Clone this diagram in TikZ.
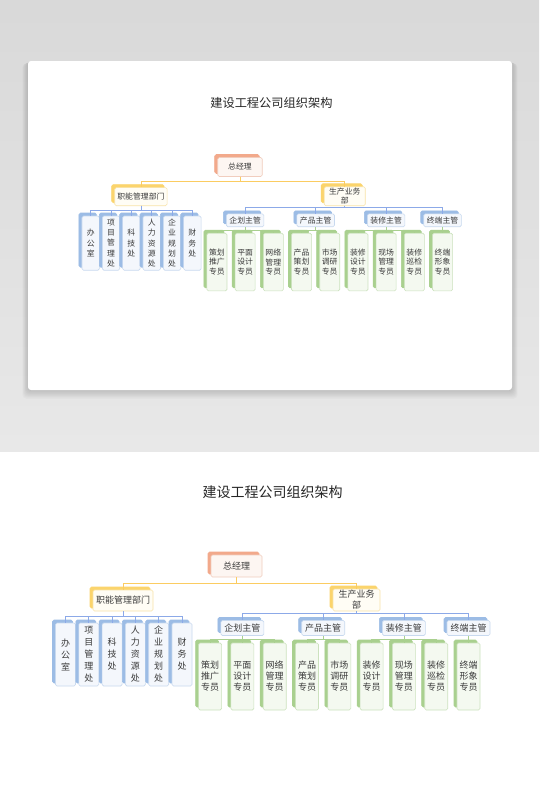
\documentclass[tikz,border=0pt]{standalone}
\usepackage{fontspec}
\newfontfamily\zhfont{Noto Sans CJK SC}
\usetikzlibrary{shadows}

\definecolor{txt}{HTML}{3A3A3A}
\definecolor{redback}{HTML}{F2A98B}
\definecolor{redline}{HTML}{F1CDBE}
\definecolor{redfill}{HTML}{FDF6F2}
\definecolor{ylwback}{HTML}{FBD46C}
\definecolor{ylwline}{HTML}{F8E3A8}
\definecolor{ylwfill}{HTML}{FFFDF5}
\definecolor{blueback}{HTML}{9CBCE5}
\definecolor{blueline}{HTML}{C8D9EF}
\definecolor{bluefill}{HTML}{F4F7FC}
\definecolor{grnback}{HTML}{A9D08F}
\definecolor{grnline}{HTML}{CCE2BE}
\definecolor{grnfill}{HTML}{F4F9F0}

\tikzset{
  box/.style={draw,rounded corners=1.5pt,inner sep=0pt,align=center,text=txt,line width=0.6pt,
    font=\zhfont\fontsize{9}{11}\selectfont},
  redbox/.style={box,draw=redline,fill=redfill,minimum width=51pt,minimum height=22pt,
    copy shadow={shadow xshift=-3pt,shadow yshift=3pt,draw=redback,fill=redback}},
  ylwbox/.style={box,draw=ylwline,fill=ylwfill,
    copy shadow={shadow xshift=-3pt,shadow yshift=3pt,draw=ylwback,fill=ylwback}},
  bluebox/.style={box,draw=blueline,fill=bluefill,minimum width=20pt,minimum height=63pt,
    font=\zhfont\fontsize{9}{12}\selectfont,
    copy shadow={shadow xshift=-3pt,shadow yshift=3pt,draw=blueback,fill=blueback}},
  mgrbox/.style={box,draw=blueline,fill=bluefill,minimum width=43pt,minimum height=15pt,
    copy shadow={shadow xshift=-3pt,shadow yshift=3pt,draw=blueback,fill=blueback}},
  grnbox/.style={box,draw=grnline,fill=grnfill,minimum width=23pt,minimum height=67pt,
    copy shadow={shadow xshift=-3pt,shadow yshift=3pt,draw=grnback,fill=grnback}},
  ylwwire/.style={draw=ylwback!90!orange,line width=0.8pt},
  bluewire/.style={draw=blueback!90!blue,line width=0.8pt},
  grnwire/.style={draw=grnback,line width=0.8pt},
  orgchart/.pic={
    \node[font=\zhfont\fontsize{14}{16}\selectfont,text=black!85] (title) at (36,-74) {建设工程公司组织架构};

    \node[redbox] (zjl) at (0,0) {总经理};
    \node[ylwbox,minimum width=60pt,minimum height=21pt] (znb) at (-113.5,34.5) {职能管理部门};
    \node[ylwbox,minimum width=47pt,minimum height=22pt] (scb) at (120,34) {生产业务\\部};

    % 职能管理部门
    \node[bluebox] (b1) at (-171,88.5) {办\\公\\室};
    \node[bluebox] (b2) at (-147.7,88.5) {项\\目\\管\\理\\处};
    \node[bluebox] (b3) at (-124.4,88.5) {科\\技\\处};
    \node[bluebox] (b4) at (-101.1,88.5) {人\\力\\资\\源\\处};
    \node[bluebox] (b5) at (-77.8,88.5) {企\\业\\规\\划\\处};
    \node[bluebox] (b6) at (-54.5,88.5) {财\\务\\处};

    % 生产业务部
    \node[mgrbox] (qh) at (5.9,62) {企划主管};
    \node[mgrbox] (cp) at (86.7,62) {产品主管};
    \node[mgrbox] (zx) at (167.4,62) {装修主管};
    \node[mgrbox] (zd) at (232,62) {终端主管};

    \node[grnbox] (g1) at (-26.4,110.5) {策划\\推广\\专员};
    \node[grnbox] (g2) at (5.9,110.5) {平面\\设计\\专员};
    \node[grnbox] (g3) at (38.2,110.5) {网络\\管理\\专员};
    \node[grnbox] (g4) at (70.5,110.5) {产品\\策划\\专员};
    \node[grnbox] (g5) at (102.8,110.5) {市场\\调研\\专员};
    \node[grnbox] (g6) at (135.1,110.5) {装修\\设计\\专员};
    \node[grnbox] (g7) at (167.4,110.5) {现场\\管理\\专员};
    \node[grnbox] (g8) at (199.7,110.5) {装修\\巡检\\专员};
    \node[grnbox] (g9) at (232,110.5) {终端\\形象\\专员};

    \draw[ylwwire] (zjl.south) -- ++(0,6) -| (znb.north);
    \draw[ylwwire] (zjl.south) -- ++(0,6) -| (scb.north);
    \foreach \i in {1,...,6}
      \draw[bluewire] (znb.south) -- ++(0,5) -| (b\i.north);
    \foreach \m in {qh,cp,zx,zd}
      \draw[bluewire] (scb.south) -- ++(0,2) -| (\m.north);
    \foreach \i in {1,2,3}
      \draw[grnwire] (qh.south) -- ++(0,3.5) -| (g\i.north);
    \foreach \i in {4,5}
      \draw[grnwire] (cp.south) -- ++(0,3.5) -| (g\i.north);
    \foreach \i in {6,7,8}
      \draw[grnwire] (zx.south) -- ++(0,3.5) -| (g\i.north);
    \draw[grnwire] (zd.south) -- (g9.north);
  }
}

\begin{document}
\begin{tikzpicture}[x=1pt,y=-1pt]
  \useasboundingbox (0,0) rectangle (539,812);
  \fill[white] (0,0) rectangle (539,812);
  \fill[top color=black!15,bottom color=black!9] (0,0) rectangle (539,451);
  % soft card shadow
  \foreach \k in {1,...,8}
    \fill[black,opacity=0.018,rounded corners=4pt]
      (28-\k*0.7,61+\k*0.3) rectangle (512+\k*0.7,390+\k*1.1);
  \fill[white,rounded corners=3pt] (28,61) rectangle (512,390);

  \pic[xscale=0.873,yscale=0.86,transform shape] (sm) at (240,167) {orgchart};
  \pic (lg) at (236.5,566) {orgchart};
\end{tikzpicture}
\end{document}
